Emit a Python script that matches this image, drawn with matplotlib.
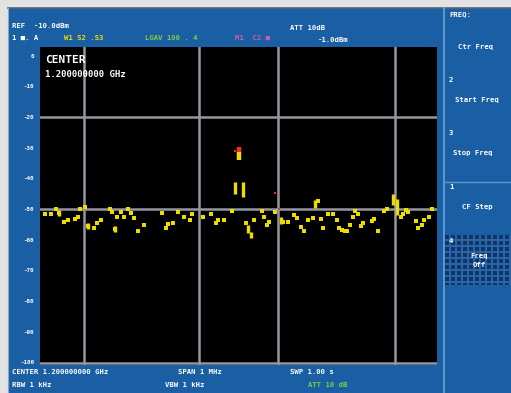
import numpy as np
import matplotlib
matplotlib.use("Agg")
import matplotlib.pyplot as plt
from matplotlib.patches import Rectangle

# ---- trace data: frequency offset from centre (kHz) and level (dBm) ----
noise_khz = [-487, -472, -460, -452, -440, -429, -412, -404, -399, -387, -379, -364,
             -356, -346, -324, -319, -311, -306, -296, -288, -278, -271, -263, -253,
             -238, -193, -183, -178, -165, -152, -137, -122, -117, -89, -69, -57,
             -52, -37, -16, 19, 39, 59, 64, 72, 77, 92, 112, 125, 140, 147,
             157, 165, 175, 188, 200, 207, 212, 225, 238, 248, 253, 261, 268, 273,
             280, 288, 293, 301, 309, 314, 336, 341, 351, 367, 374, 409, 414, 421,
             428, 448, 453, 461, 468, 481, 488]
noise_dbm = [-51.5, -51.5, -49.8, -51.1, -54.1, -53.4, -53.1, -52.4, -49.8, -49.2, -55.4, -56.0,
             -54.4, -53.4, -49.8, -50.8, -56.4, -52.4, -50.8, -52.4, -49.8, -51.1, -52.8, -57.0,
             -55.0, -51.1, -56.0, -54.7, -54.4, -50.8, -52.4, -53.4, -51.5, -52.4, -51.5, -54.4,
             -53.4, -53.4, -50.5, -54.4, -53.4, -50.5, -52.4, -55.0, -54.1, -50.8, -54.1, -54.1, -51.8, -52.8,
             -55.7, -57.0, -53.4, -52.8, -47.2, -53.1, -56.0, -51.5, -51.5, -53.4, -56.0, -56.7, -57.0, -57.0,
             -55.0, -52.4, -50.5, -51.5, -55.4, -54.4, -53.7, -53.1, -57.0, -50.5, -49.8, -52.4, -51.5, -50.2,
             -50.8, -53.7, -56.0, -55.0, -53.4, -52.4, -49.8]

# vertical trace runs: position, lower level, upper level
run_khz = [-9, 11, 24, 31, 107, 193, 389, 399, -452, -379, -311]
run_lo = [-45.0, -45.9, -57.7, -59.3, -54.7, -49.5, -48.5, -51.8, -52.2, -56.4, -57.4]
run_hi = [-41.0, -41.0, -55.0, -57.3, -52.4, -46.9, -45.0, -46.5, -50.2, -54.4, -55.4]

# signal peak at centre frequency: trace body and marker tip
peak_khz = 0
peak_body_lo, peak_body_hi = -33.9, -31.3
peak_tip_lo, peak_tip_hi = -31.3, -29.6

# marker trace points (red / cyan)
red_khz = [-9, 92, 102]
red_dbm = [-31.0, -44.6, -49.8]
cyan_khz = [97]
cyan_dbm = [-50.2]

# graticule
grid_khz = [-390, -100, 100, 395]
grid_dbm = [-20, -50]
ref_ticks = [0, -10, -20, -30, -40, -50, -60, -70, -80, -90, -100]

W, H = 511, 393
BLUE = "#1a5fa3"
YEL = "#ecdc00"
GRID = "#9496a0"
MONO = "DejaVu Sans Mono"

fig = plt.figure(figsize=(W / 100, H / 100), dpi=100)
fig.patch.set_facecolor("#e2e2e2")

# background frame in pixel coordinates
bg = fig.add_axes([0, 0, 1, 1])
bg.set_xlim(0, W)
bg.set_ylim(H, 0)
bg.axis("off")
bg.add_patch(Rectangle((8, 8), W - 8, H - 8, color=BLUE, lw=0))
bg.plot([8, W], [8, 8], color="#5a6470", lw=1.2)
bg.plot([8, 8], [8, H], color="#8fa6bf", lw=0.8)

# softkey panel
bg.plot([444, 444], [8, H], color="#5f97d0", lw=1.4)
bg.plot([445, W], [182, 182], color="#5f97d0", lw=1.0)
yy, xx = np.mgrid[0:50, 0:66]
checker = (((xx % 6) < 4) & ((yy % 6) < 4)).astype(float)
bg.imshow(checker, extent=(445, 511, 285, 235),
          cmap=matplotlib.colors.ListedColormap(["#2a64a8", "#0f3565"]),
          interpolation="nearest", aspect="auto", zorder=2)
bg.set_xlim(0, W)
bg.set_ylim(H, 0)

tkw = dict(family=MONO, fontweight="bold", color="white", fontsize=5.2, va="center")
# softkey labels
bg.text(449, 14, "FREQ:", **tkw)
bg.text(458, 47, "Ctr Freq", **tkw)
bg.text(449, 80, "2", **tkw)
bg.text(455, 100, "Start Freq", **tkw)
bg.text(449, 133, "3", **tkw)
bg.text(453, 153, "Stop Freq", **tkw)
bg.text(449, 187, "1", **tkw)
bg.text(462, 207, "CF Step", **tkw)
bg.text(449, 241, "4", zorder=3, **tkw)
bg.text(479, 256, "Freq", ha="center", zorder=3, **tkw)
bg.text(479, 265, "Off", ha="center", zorder=3, **tkw)

# header
bg.text(12, 26, "REF  -10.0dBm", **tkw)
bg.text(290, 28, "ATT 10dB", **tkw)
bg.text(318, 40, "-1.0dBm", **tkw)
bg.text(12, 38, "1 \u25a0. A", **tkw)
bg.text(64, 38, "W1 S2 .S3", **{**tkw, "color": YEL})
bg.text(145, 38, "LGAV 100 . 4", **{**tkw, "color": "#7ccf3a"})
bg.text(235, 38, "M1  C2 \u25a0", **{**tkw, "color": "#d05ab0"})

# footer
bg.text(12, 372, "CENTER 1.200000000 GHz", **tkw)
bg.text(178, 372, "SPAN 1 MHz", **tkw)
bg.text(290, 372, "SWP 1.00 s", **tkw)
bg.text(12, 385, "RBW 1 kHz", **tkw)
bg.text(165, 385, "VBW 1 kHz", **tkw)
bg.text(308, 385, "ATT 10 dB", **{**tkw, "color": "#7ccf3a"})

# reference-level scale
for v in ref_ticks:
    py = 56 - v * 3.07
    bg.text(34, py, f"{v}", ha="right", **{**tkw, "fontsize": 4.2})

# ---- trace display ----
x0, x1, y0, y1 = 40, 437, 47, 365
ax = fig.add_axes([x0 / W, 1 - y1 / H, (x1 - x0) / W, (y1 - y0) / H])
ax.set_facecolor("black")
ax.set_xlim(-500, 500)
ax.set_ylim(-100.65, 2.93)
ax.set_xticks([])
ax.set_yticks([])
for s in ax.spines.values():
    s.set_visible(False)

for g in grid_khz:
    ax.axvline(g, color=GRID, lw=1.8, zorder=1)
for g in grid_dbm:
    ax.axhline(g, color=GRID, lw=1.8, zorder=1)
ax.axhline(-100, color=GRID, lw=1.8, zorder=1)

ax.scatter(noise_khz, noise_dbm, marker="s", s=5.5, color=YEL, lw=0, zorder=3)
ax.vlines(run_khz, run_lo, run_hi, color=YEL, lw=2.4, zorder=3)
ax.vlines([peak_khz], [peak_tip_lo], [peak_tip_hi], color="#ff2a1a", lw=3.2, zorder=4)
ax.vlines([peak_khz], [peak_body_lo], [peak_body_hi], color=YEL, lw=3.2, zorder=4)
ax.scatter(red_khz, red_dbm, marker="s", s=4, color="#ff2a1a", lw=0, zorder=4)
ax.scatter(cyan_khz, cyan_dbm, marker="s", s=4, color="#38d8e8", lw=0, zorder=4)

ax.text(0.012, 0.96, "CENTER", transform=ax.transAxes, family=MONO, fontweight="bold",
        color="white", fontsize=8, va="center")
ax.text(0.012, 0.915, "1.200000000 GHz", transform=ax.transAxes, family=MONO, fontweight="bold",
        color="white", fontsize=6.5, va="center")

fig.savefig("out.png", dpi=100, facecolor=fig.get_facecolor())
